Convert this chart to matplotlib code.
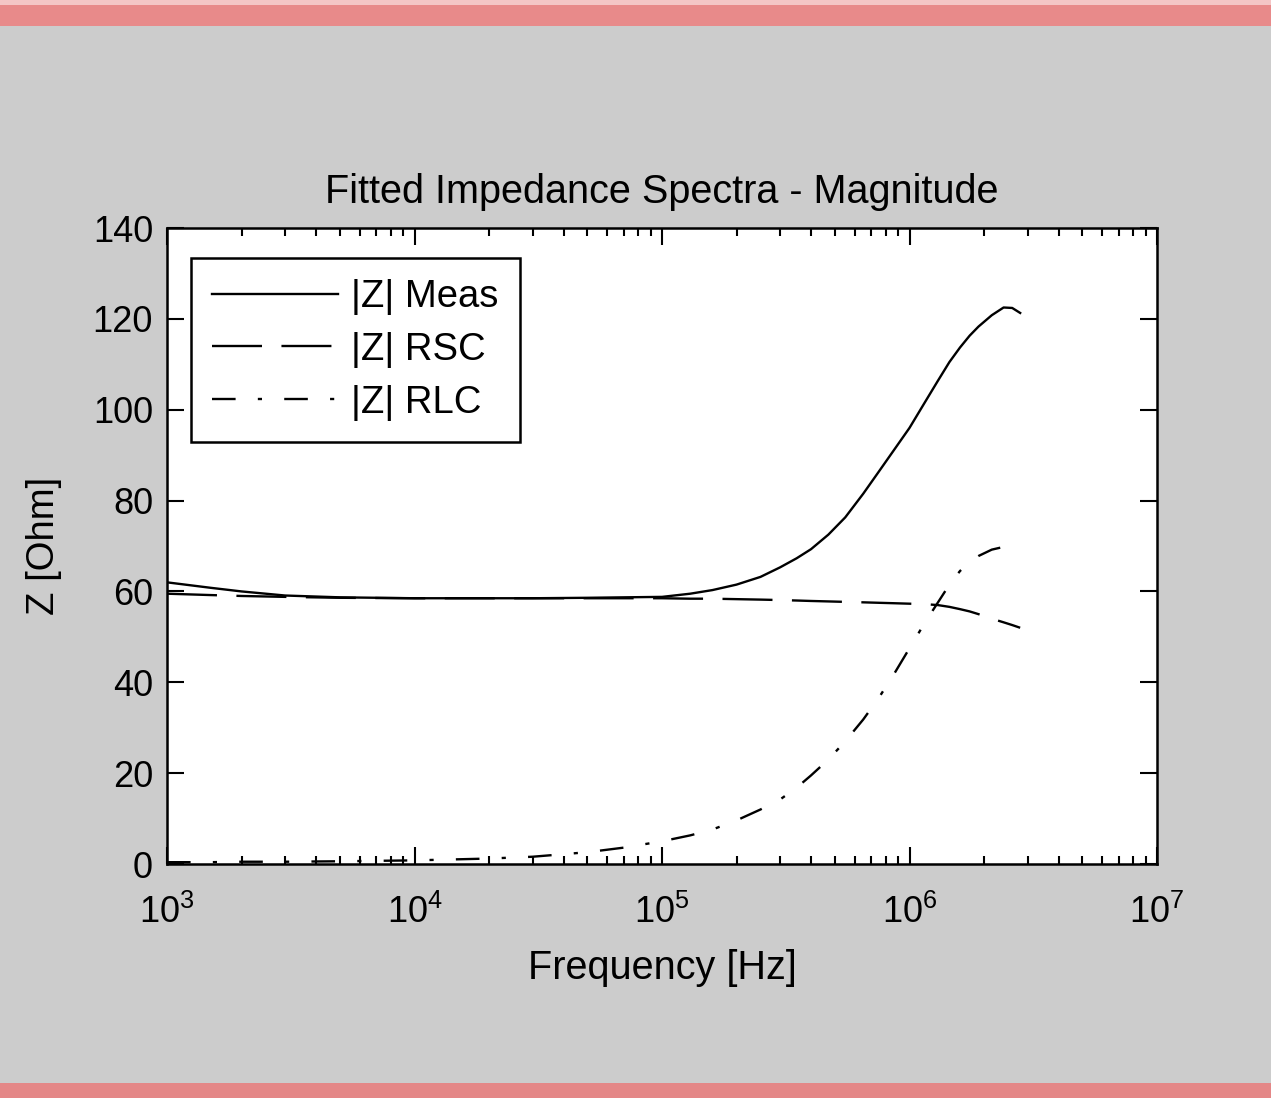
import matplotlib
matplotlib.use("Agg")
import matplotlib.pyplot as plt
from matplotlib.patches import Rectangle

plt.rcParams['font.family'] = ['Liberation Sans', 'DejaVu Sans']
plt.rcParams['mathtext.default'] = 'regular'
plt.rcParams['lines.scale_dashes'] = False

# Frequency grid [Hz] and impedance magnitudes [Ohm]
freq = [1.0e3, 1.5e3, 2.0e3, 3.0e3, 5.0e3, 1.0e4, 2.0e4, 3.0e4, 5.0e4,
        7.0e4, 1.0e5, 1.3e5, 1.6e5, 2.0e5, 2.5e5, 3.0e5, 3.5e5, 4.0e5,
        4.7e5, 5.5e5, 6.5e5, 7.5e5, 8.7e5, 1.0e6, 1.15e6, 1.3e6, 1.45e6,
        1.6e6, 1.75e6, 1.9e6, 2.15e6, 2.4e6, 2.6e6, 2.8e6]
z_meas = [62.0, 60.8, 60.0, 59.1, 58.7, 58.5, 58.5, 58.5, 58.6,
          58.7, 58.8, 59.5, 60.3, 61.5, 63.2, 65.3, 67.3, 69.3,
          72.5, 76.3, 81.5, 86.3, 91.3, 96.0, 101.5, 106.3, 110.5,
          113.7, 116.3, 118.3, 120.8, 122.5, 122.4, 121.3]
z_rsc = [59.5, 59.2, 59.0, 58.8, 58.6, 58.5, 58.5, 58.5, 58.5,
         58.5, 58.5, 58.4, 58.4, 58.3, 58.2, 58.1, 58.0, 57.9,
         57.8, 57.7, 57.6, 57.5, 57.4, 57.3, 57.2, 57.0, 56.6,
         56.1, 55.6, 55.0, 54.0, 53.2, 52.6, 52.0]
z_rlc = [0.4, 0.4, 0.5, 0.5, 0.6, 0.8, 1.2, 1.6, 2.6,
         3.6, 5.0, 6.3, 7.6, 9.6, 12.0, 14.2, 16.8, 19.5,
         23.0, 27.0, 31.8, 36.5, 42.0, 47.5, 53.0, 57.5, 61.5,
         64.5, 66.5, 67.8, 69.2, 69.8, 69.7, 69.2]

xlabel = "Frequency [Hz]"
ylabel = "Z [Ohm]"
title = "Fitted Impedance Spectra - Magnitude"
labels = ["|Z| Meas", "|Z| RSC", "|Z| RLC"]
yticks = [0, 20, 40, 60, 80, 100, 120, 140]

W, H = 1271, 1098
fig = plt.figure(figsize=(W / 100, H / 100), dpi=100, facecolor='#cccccc')

# pink window bands
fig.patches.append(Rectangle((0, 1 - 5 / H), 1, 5 / H, transform=fig.transFigure,
                             facecolor='#f4c6c6', edgecolor='none', zorder=0))
fig.patches.append(Rectangle((0, 1 - 26 / H), 1, 21 / H, transform=fig.transFigure,
                             facecolor='#e88a8a', edgecolor='none', zorder=0))
fig.patches.append(Rectangle((0, 0), 1, 15 / H, transform=fig.transFigure,
                             facecolor='#e48787', edgecolor='none', zorder=0))

ax_w, ax_h = (1157 - 167), (864 - 228)
ax = fig.add_axes([167 / W, 1 - 864 / H, ax_w / W, ax_h / H])
ax.set_facecolor('white')

lw = 1.7
ax.plot(freq, z_meas, color='black', lw=lw, label=labels[0])
ax.plot(freq, z_rsc, color='black', lw=lw, dashes=(36, 14), label=labels[1])
ax.plot(freq, z_rlc, color='black', lw=lw, dashes=(17, 16, 3, 16), label=labels[2])

ax.set_xscale('log')
ax.set_xlim(1e3, 1e7)
ax.set_ylim(0, 140)
ax.set_yticks(yticks)

fs_tick = 26
fs_lab = 28.5
ax.set_title(title, fontsize=fs_lab, pad=18)
ax.set_xlabel(xlabel, fontsize=fs_lab, labelpad=13)
ax.set_ylabel(ylabel, fontsize=fs_lab - 1, labelpad=22)

ax.tick_params(which='both', direction='in', top=True, right=True,
               labelsize=fs_tick, width=1.5, colors='black')
ax.tick_params(which='major', length=12, pad=10)
ax.tick_params(axis='x', which='major', pad=22)
ax.tick_params(which='minor', length=6)
ax.tick_params(axis='y', which='minor', left=False, right=False)
for s in ax.spines.values():
    s.set_linewidth(1.8)

leg = ax.legend(loc='upper left', fontsize=27.5, handlelength=3.3,
                handletextpad=0.35, labelspacing=0.44, borderpad=0.55,
                borderaxespad=0, fancybox=False, framealpha=1,
                edgecolor='black',
                bbox_to_anchor=(24 / ax_w, 1 - 30 / ax_h))
leg.get_frame().set_linewidth(1.8)

fig.savefig('out.png', dpi=100, facecolor=fig.get_facecolor())
